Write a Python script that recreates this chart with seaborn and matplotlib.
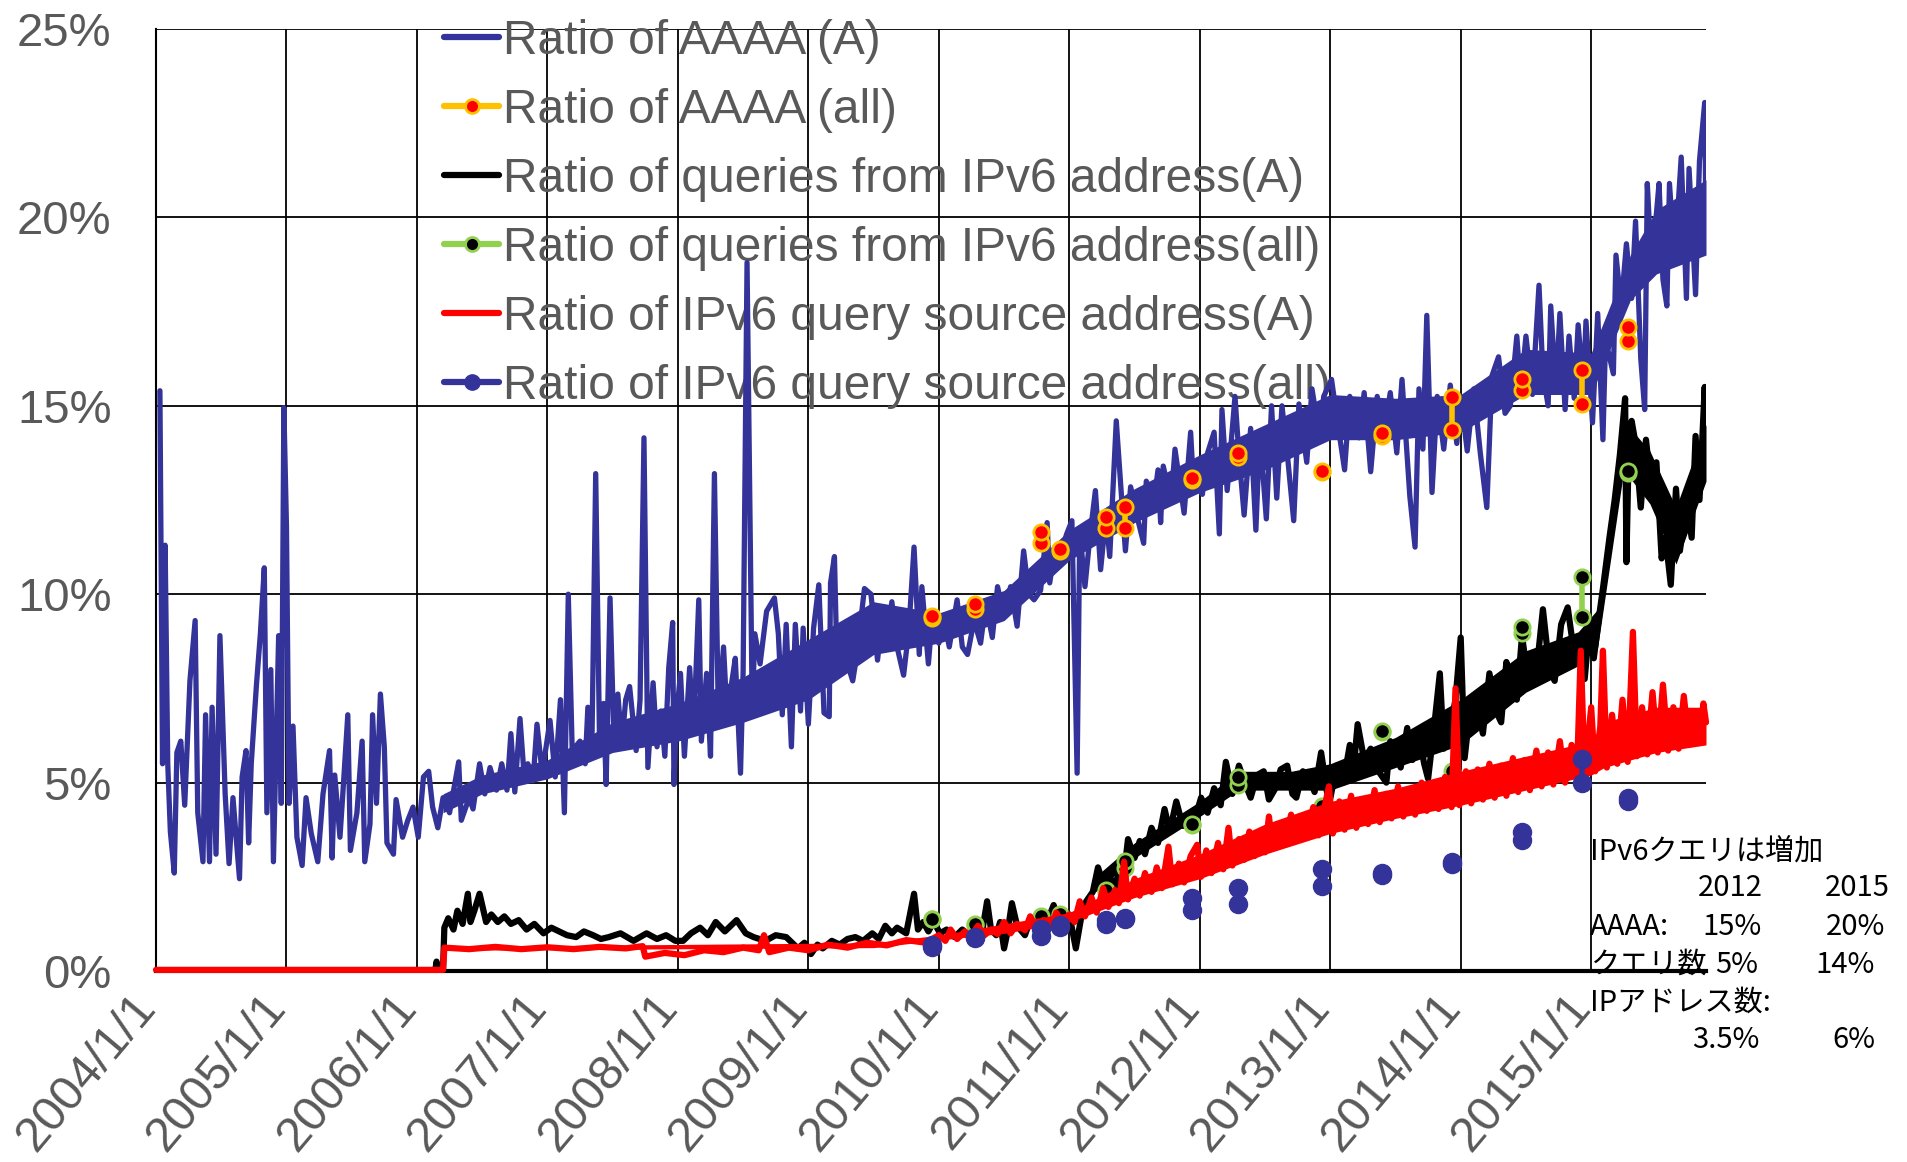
import matplotlib
matplotlib.use("Agg")
import matplotlib.pyplot as plt
import matplotlib.transforms as mtransforms
from matplotlib.lines import Line2D
import seaborn as sns

# ---- data (values in %, x in decimal years) ----
aaaa_a_year = [2004.03, 2004.05, 2004.07, 2004.09, 2004.11, 2004.14, 2004.16, 2004.19, 2004.22, 2004.26,
               2004.30, 2004.32, 2004.36, 2004.38, 2004.41, 2004.43, 2004.46, 2004.49, 2004.53, 2004.56,
               2004.59, 2004.64, 2004.66, 2004.69, 2004.71, 2004.73, 2004.77, 2004.80, 2004.83, 2004.85,
               2004.88, 2004.90, 2004.94, 2004.96, 2004.98, 2005.00, 2005.02, 2005.05, 2005.08, 2005.12,
               2005.15, 2005.19, 2005.24, 2005.28, 2005.33, 2005.35, 2005.37, 2005.41, 2005.43, 2005.47,
               2005.49, 2005.54, 2005.58, 2005.60, 2005.64, 2005.66, 2005.69, 2005.72, 2005.75, 2005.77,
               2005.82, 2005.84, 2005.89, 2005.93, 2005.97, 2006.01, 2006.05, 2006.09, 2006.12, 2006.16,
               2006.20, 2006.25, 2006.32, 2006.34, 2006.40, 2006.43, 2006.48, 2006.52, 2006.56, 2006.61,
               2006.65, 2006.69, 2006.72, 2006.75, 2006.79, 2006.82, 2006.85, 2006.89, 2006.92, 2006.96,
               2007.02, 2007.06, 2007.10, 2007.13, 2007.16, 2007.19, 2007.25, 2007.29, 2007.31, 2007.34,
               2007.37, 2007.40, 2007.43, 2007.45, 2007.48, 2007.51, 2007.54, 2007.57, 2007.60, 2007.63,
               2007.68, 2007.71, 2007.74, 2007.77, 2007.81, 2007.84, 2007.87, 2007.90, 2007.93, 2007.96,
               2007.97, 2007.99, 2008.02, 2008.05, 2008.09, 2008.12, 2008.16, 2008.18, 2008.22, 2008.25,
               2008.28, 2008.31, 2008.35, 2008.38, 2008.41, 2008.44, 2008.48, 2008.50, 2008.53, 2008.57,
               2008.59, 2008.63, 2008.68, 2008.74, 2008.77, 2008.80, 2008.83, 2008.87, 2008.90, 2008.94,
               2008.96, 2009.00, 2009.04, 2009.08, 2009.12, 2009.16, 2009.17, 2009.20, 2009.22, 2009.27,
               2009.30, 2009.34, 2009.37, 2009.43, 2009.48, 2009.53, 2009.57, 2009.60, 2009.64, 2009.68,
               2009.73, 2009.77, 2009.81, 2009.85, 2009.87, 2009.92, 2009.95, 2010.00, 2010.04, 2010.08,
               2010.14, 2010.18, 2010.22, 2010.27, 2010.32, 2010.36, 2010.41, 2010.45, 2010.50, 2010.55,
               2010.60, 2010.65, 2010.69, 2010.73, 2010.78, 2010.83, 2010.85, 2010.89, 2010.94, 2010.98,
               2011.02, 2011.06, 2011.08, 2011.12, 2011.16, 2011.20, 2011.24, 2011.28, 2011.31, 2011.36,
               2011.40, 2011.43, 2011.47, 2011.52, 2011.57, 2011.59, 2011.65, 2011.68, 2011.70, 2011.72,
               2011.78, 2011.81, 2011.88, 2011.93, 2011.95, 2012.02, 2012.06, 2012.11, 2012.15, 2012.17,
               2012.21, 2012.27, 2012.30, 2012.34, 2012.39, 2012.43, 2012.46, 2012.51, 2012.55, 2012.59,
               2012.63, 2012.67, 2012.72, 2012.76, 2012.82, 2012.86, 2012.92, 2012.95, 2013.01, 2013.05,
               2013.11, 2013.15, 2013.22, 2013.26, 2013.31, 2013.36, 2013.41, 2013.46, 2013.51, 2013.55,
               2013.61, 2013.65, 2013.68, 2013.71, 2013.74, 2013.78, 2013.82, 2013.87, 2013.92, 2013.97,
               2014.00, 2014.05, 2014.10, 2014.15, 2014.20, 2014.24, 2014.29, 2014.34, 2014.38, 2014.43,
               2014.46, 2014.50, 2014.55, 2014.60, 2014.63, 2014.67, 2014.69, 2014.73, 2014.76, 2014.80,
               2014.83, 2014.87, 2014.90, 2014.94, 2014.96, 2015.01, 2015.05, 2015.09, 2015.11, 2015.17,
               2015.19, 2015.23, 2015.27, 2015.31, 2015.34, 2015.38, 2015.41, 2015.43, 2015.46, 2015.50,
               2015.52, 2015.55, 2015.58, 2015.60, 2015.64, 2015.69, 2015.73, 2015.75, 2015.80, 2015.83,
               2015.87, 2015.88]
aaaa_a_val = [15.4, 5.5, 11.3, 5.5, 3.7, 2.6, 5.8, 6.1, 4.4, 7.7,
              9.3, 4.2, 2.9, 6.8, 2.9, 7.0, 3.1, 8.9, 4.7, 2.85,
              4.6, 2.45, 5.15, 5.85, 3.4, 5.5, 7.6, 8.95, 10.7, 4.2,
              8.0, 2.9, 8.9, 4.45, 14.95, 11.8, 4.45, 6.5, 3.55, 2.8,
              4.6, 3.65, 2.9, 4.7, 5.85, 3.0, 5.2, 3.55, 4.6, 6.8,
              3.2, 4.2, 6.1, 2.9, 3.9, 6.8, 4.45, 7.35, 5.95, 3.4,
              3.1, 4.55, 3.55, 4.0, 4.35, 3.55, 5.15, 5.3, 4.35, 3.8,
              4.6, 4.2, 5.55, 4.0, 4.6, 4.3, 5.5, 4.7, 5.4, 4.8,
              5.5, 4.8, 6.3, 4.75, 6.7, 5.25, 5.5, 5.05, 6.55, 5.25,
              6.65, 5.15, 7.2, 4.2, 10.0, 5.85, 6.1, 5.5, 7.0, 5.75,
              13.2, 5.95, 7.1, 4.95, 9.9, 6.1, 7.35, 6.0, 7.2, 7.55,
              5.85, 7.2, 14.15, 5.4, 7.65, 5.95, 6.9, 5.7, 8.05, 9.25,
              4.95, 6.8, 7.9, 5.7, 8.05, 6.3, 9.85, 6.1, 7.9, 5.7,
              13.2, 6.8, 8.6, 6.55, 7.6, 8.3, 5.25, 7.95, 18.8, 6.9,
              8.95, 8.15, 9.55, 9.9, 8.95, 6.8, 9.2, 5.95, 9.2, 6.9,
              9.1, 6.55, 9.1, 10.25, 6.85, 6.75, 10.3, 11.0, 8.05, 8.95,
              8.15, 7.7, 8.35, 10.15, 10.0, 8.25, 9.5, 8.8, 9.8, 8.6,
              7.85, 9.05, 11.25, 8.4, 10.2, 8.15, 9.4, 8.7, 9.3, 8.6,
              9.85, 8.6, 8.4, 9.3, 8.7, 9.75, 8.85, 10.2, 9.4, 10.2,
              9.15, 11.15, 10.0, 9.85, 10.1, 11.9, 10.3, 11.25, 11.15, 11.6,
              11.95, 5.25, 11.7, 10.2, 11.6, 12.75, 10.65, 12.05, 11.0, 14.6,
              12.6, 11.15, 12.85, 12.05, 11.35, 13.0, 12.5, 13.3, 11.9, 13.4,
              12.45, 13.85, 12.15, 14.3, 13.0, 12.65, 13.75, 14.3, 11.6, 14.9,
              12.75, 15.25, 13.7, 12.1, 14.4, 11.7, 14.3, 12.0, 15.0, 12.55,
              15.0, 13.75, 11.95, 15.05, 13.5, 15.45, 14.15, 15.25, 15.7, 14.7,
              13.3, 15.25, 14.15, 15.35, 13.25, 15.25, 14.25, 15.35, 13.75, 15.7,
              12.6, 11.25, 15.45, 13.85, 17.4, 12.7, 15.25, 13.85, 15.55, 14.0,
              15.25, 13.8, 15.45, 13.75, 12.3, 15.8, 16.3, 14.8, 15.0, 16.85,
              15.4, 16.85, 15.3, 18.2, 15.85, 15.0, 17.65, 15.4, 17.45, 14.9,
              16.85, 15.2, 17.15, 15.5, 17.25, 14.55, 17.45, 14.1, 16.75, 15.85,
              19.0, 17.65, 19.3, 17.85, 19.9, 16.25, 14.9, 20.9, 18.85, 20.1,
              20.9, 18.35, 17.65, 20.9, 18.85, 21.6, 17.85, 21.3, 17.95, 21.5,
              23.05, 19.7]
# dense core of the daily AAAA(A) band (lower / upper edge)
aaaa_band_year = [2006.20, 2006.50, 2007.00, 2007.50, 2008.00, 2008.50, 2009.00, 2009.50, 2010.00, 2010.50,
                  2011.00, 2011.50, 2012.00, 2012.50, 2013.00, 2013.50, 2014.00, 2014.50, 2015.00, 2015.30,
                  2015.50, 2015.88]
aaaa_band_low = [4.2, 4.7, 5.1, 5.8, 6.1, 6.6, 7.2, 8.4, 8.7, 9.3,
                 10.9, 11.9, 12.7, 13.3, 14.1, 14.1, 14.3, 15.3, 15.3, 17.8,
                 18.5, 19.0]
aaaa_band_high = [4.7, 5.2, 5.6, 6.6, 7.1, 7.8, 8.8, 9.8, 9.5, 10.1,
                  11.7, 12.8, 13.7, 14.5, 15.3, 15.2, 15.3, 16.5, 16.4, 19.0,
                  20.2, 21.0]

queries_a_year = [2004.00, 2006.14, 2006.15, 2006.17, 2006.20, 2006.21, 2006.24, 2006.28, 2006.31, 2006.35,
                  2006.39, 2006.41, 2006.44, 2006.48, 2006.53, 2006.57, 2006.62, 2006.67, 2006.72, 2006.78,
                  2006.84, 2006.90, 2006.97, 2007.03, 2007.09, 2007.15, 2007.22, 2007.28, 2007.35, 2007.41,
                  2007.47, 2007.56, 2007.66, 2007.76, 2007.84, 2007.91, 2007.98, 2008.04, 2008.10, 2008.17,
                  2008.23, 2008.29, 2008.36, 2008.45, 2008.52, 2008.58, 2008.67, 2008.75, 2008.83, 2008.92,
                  2008.97, 2009.02, 2009.07, 2009.11, 2009.18, 2009.24, 2009.30, 2009.36, 2009.42, 2009.49,
                  2009.54, 2009.59, 2009.64, 2009.68, 2009.75, 2009.81, 2009.84, 2009.88, 2009.92, 2009.96,
                  2010.01, 2010.06, 2010.12, 2010.18, 2010.23, 2010.28, 2010.33, 2010.37, 2010.40, 2010.44,
                  2010.47, 2010.50, 2010.53, 2010.56, 2010.60, 2010.66, 2010.70, 2010.75, 2010.80, 2010.84,
                  2010.88, 2010.93, 2011.00, 2011.05, 2011.09, 2011.13, 2011.18, 2011.22, 2011.27, 2011.32,
                  2011.35, 2011.38, 2011.42, 2011.45, 2011.50, 2011.54, 2011.58, 2011.63, 2011.68, 2011.73,
                  2011.77, 2011.82, 2011.87, 2011.92, 2011.96, 2012.01, 2012.06, 2012.11, 2012.16, 2012.20,
                  2012.25, 2012.30, 2012.35, 2012.39, 2012.44, 2012.49, 2012.53, 2012.58, 2012.62, 2012.67,
                  2012.71, 2012.74, 2012.79, 2012.83, 2012.88, 2012.93, 2012.99, 2013.05, 2013.10, 2013.15,
                  2013.18, 2013.21, 2013.26, 2013.31, 2013.37, 2013.43, 2013.46, 2013.49, 2013.54, 2013.59,
                  2013.63, 2013.68, 2013.72, 2013.75, 2013.80, 2013.84, 2013.87, 2013.90, 2013.96, 2014.00,
                  2014.03, 2014.07, 2014.12, 2014.17, 2014.22, 2014.27, 2014.31, 2014.35, 2014.38, 2014.43,
                  2014.47, 2014.52, 2014.57, 2014.60, 2014.63, 2014.68, 2014.72, 2014.77, 2014.82, 2014.87,
                  2014.91, 2014.95, 2014.98, 2015.02, 2015.06, 2015.09, 2015.14, 2015.18, 2015.22, 2015.26,
                  2015.27, 2015.29, 2015.31, 2015.34, 2015.38, 2015.42, 2015.46, 2015.50, 2015.54, 2015.57,
                  2015.61, 2015.65, 2015.68, 2015.73, 2015.77, 2015.80, 2015.83, 2015.87, 2015.88]
queries_a_val = [0.0, 0.0, 0.25, 0.0, 0.05, 1.15, 1.4, 1.1, 1.6, 1.25,
                 2.05, 1.3, 1.6, 2.05, 1.3, 1.5, 1.3, 1.45, 1.25, 1.35,
                 1.1, 1.25, 1.0, 1.15, 1.05, 0.95, 0.9, 1.05, 0.95, 0.85,
                 0.9, 1.0, 0.8, 1.0, 0.85, 0.95, 0.8, 0.8, 1.0, 1.15,
                 0.95, 1.3, 1.05, 1.35, 1.0, 0.9, 0.8, 0.95, 0.9, 0.6,
                 0.75, 0.45, 0.7, 0.6, 0.8, 0.7, 0.85, 0.9, 0.8, 1.0,
                 0.85, 1.2, 1.0, 1.15, 1.0, 2.05, 1.1, 1.3, 1.05, 1.3,
                 1.0, 1.1, 0.9, 1.1, 0.95, 1.3, 1.0, 1.85, 1.1, 0.95,
                 1.3, 0.6, 1.1, 1.8, 1.2, 0.95, 1.35, 1.3, 1.0, 1.4,
                 1.75, 1.2, 1.5, 0.6, 1.4, 1.85, 2.1, 2.75, 2.2, 2.45,
                 2.0, 2.8, 2.6, 3.5, 3.0, 3.45, 3.1, 3.8, 3.4, 4.3,
                 3.7, 4.5, 3.85, 4.15, 4.0, 4.6, 4.2, 4.85, 4.4, 5.55,
                 4.7, 5.45, 4.95, 4.6, 5.2, 5.3, 4.55, 4.85, 5.35, 5.45,
                 4.7, 4.6, 5.3, 5.2, 4.75, 5.8, 4.4, 5.45, 5.0, 6.0,
                 5.4, 6.55, 5.6, 5.9, 5.3, 5.0, 6.1, 5.9, 5.4, 6.45,
                 5.6, 6.25, 5.5, 5.1, 6.6, 7.9, 5.9, 6.1, 7.2, 8.85,
                 5.65, 6.9, 7.15, 6.3, 7.9, 6.9, 6.6, 8.2, 7.75, 7.2,
                 8.9, 7.6, 7.75, 8.6, 9.6, 8.0, 7.7, 9.2, 9.65, 8.4,
                 8.55, 7.75, 8.9, 8.3, 9.4, 10.15, 11.5, 12.5, 13.7, 15.2,
                 10.85, 14.3, 14.6, 14.0, 12.3, 14.1, 12.8, 13.5, 10.95, 11.5,
                 10.25, 12.8, 11.15, 12.5, 11.5, 14.2, 12.5, 15.5, 14.0]
queries_band_year = [2011.20, 2011.50, 2012.00, 2012.30, 2012.70, 2013.00, 2013.50, 2014.00, 2014.50, 2014.90,
                     2015.05, 2015.25, 2015.45, 2015.65, 2015.88]
queries_band_low = [2.1, 3.0, 4.1, 4.8, 4.8, 4.8, 5.4, 6.0, 7.4, 8.1,
                    8.6, 13.3, 12.4, 10.8, 13.0]
queries_band_high = [2.5, 3.4, 4.5, 5.3, 5.3, 5.5, 6.2, 7.2, 8.5, 9.0,
                     9.6, 14.6, 13.8, 12.3, 14.5]

source_a_year = [2004.00, 2006.20, 2006.21, 2006.40, 2006.60, 2006.80, 2007.00, 2007.20, 2007.40, 2007.60,
                 2007.73, 2007.75, 2007.90, 2008.05, 2008.20, 2008.35, 2008.50, 2008.62, 2008.66, 2008.70,
                 2008.85, 2009.00, 2009.15, 2009.30, 2009.45, 2009.60, 2009.75, 2009.90,
                 2010.00, 2010.05, 2010.09, 2010.14, 2010.20, 2010.24, 2010.30, 2010.35, 2010.40, 2010.45,
                 2010.50, 2010.55, 2010.60, 2010.66, 2010.70, 2010.75, 2010.80, 2010.86, 2010.90, 2010.95,
                 2011.00, 2011.04, 2011.08, 2011.12, 2011.17, 2011.21, 2011.26, 2011.30, 2011.35, 2011.38,
                 2011.42, 2011.45, 2011.50, 2011.54, 2011.58, 2011.63, 2011.67, 2011.71, 2011.76, 2011.79,
                 2011.84, 2011.88, 2011.93, 2011.98, 2012.01, 2012.05, 2012.09, 2012.14, 2012.18, 2012.22,
                 2012.25, 2012.30, 2012.34, 2012.38, 2012.42, 2012.46, 2012.50, 2012.53, 2012.56, 2012.61,
                 2012.65, 2012.70, 2012.74, 2012.78, 2012.82, 2012.87, 2012.91, 2012.95, 2012.99, 2013.02,
                 2013.07, 2013.11, 2013.16, 2013.20, 2013.25, 2013.29, 2013.34, 2013.38, 2013.43, 2013.47,
                 2013.52, 2013.56, 2013.61, 2013.65, 2013.70, 2013.74, 2013.79, 2013.83, 2013.88, 2013.93,
                 2013.96, 2013.99, 2014.04, 2014.08, 2014.13, 2014.17, 2014.22, 2014.26, 2014.31, 2014.35,
                 2014.40, 2014.44, 2014.49, 2014.53, 2014.58, 2014.62, 2014.67, 2014.71, 2014.76, 2014.80,
                 2014.85, 2014.89, 2014.92, 2014.95, 2015.00, 2015.03, 2015.07, 2015.09, 2015.12, 2015.16,
                 2015.20, 2015.24, 2015.28, 2015.32, 2015.35, 2015.39, 2015.43, 2015.47, 2015.51, 2015.55,
                 2015.59, 2015.63, 2015.67, 2015.71, 2015.75, 2015.79, 2015.83, 2015.86, 2015.88]
source_a_val = [0.03, 0.03, 0.62, 0.58, 0.64, 0.58, 0.63, 0.58, 0.64, 0.6,
                0.66, 0.38, 0.48, 0.42, 0.55, 0.5, 0.62, 0.55, 0.95, 0.5,
                0.62, 0.55, 0.7, 0.62, 0.75, 0.68, 0.82, 0.75,
                0.95, 0.8, 1.1, 0.85, 1.05, 0.9, 1.2, 0.95, 1.1, 0.98,
                1.3, 1.0, 1.25, 1.08, 1.45, 1.1, 1.35, 1.15, 1.55, 1.25,
                1.5, 1.3, 1.85, 1.45, 1.95, 1.55, 2.2, 1.7, 2.15, 1.8,
                2.9, 1.9, 2.45, 2.0, 2.6, 2.1, 2.75, 2.2, 3.3, 2.3,
                2.85, 2.35, 3.05, 3.35, 2.5, 3.2, 2.6, 3.4, 2.7, 3.8,
                2.8, 3.5, 2.95, 3.7, 3.05, 3.6, 3.15, 4.1, 3.25, 3.9,
                3.35, 4.15, 3.45, 4.0, 3.55, 4.35, 3.6, 4.25, 4.9, 3.65,
                4.5, 3.75, 4.65, 3.8, 4.5, 3.9, 4.8, 3.95, 4.7, 4.05,
                4.9, 4.1, 4.75, 4.15, 5.0, 4.25, 4.95, 4.3, 5.15, 4.35,
                7.5, 4.4, 5.3, 4.45, 5.35, 4.55, 5.5, 4.6, 5.45, 4.65,
                5.65, 4.75, 5.6, 4.8, 5.85, 4.9, 5.8, 4.95, 6.1, 5.0,
                6.0, 5.1, 8.5, 5.2, 7.0, 5.3, 6.5, 8.5, 5.4, 6.8,
                5.5, 7.2, 5.55, 9.0, 5.7, 7.0, 5.75, 7.4, 5.8, 7.6,
                5.85, 7.0, 5.9, 7.3, 6.0, 6.8, 6.05, 7.1, 6.6]
source_band_year = [2006.21, 2009.50, 2010.00, 2010.50, 2011.00, 2011.50, 2012.00, 2012.50, 2013.00, 2013.50,
                    2014.00, 2014.50, 2015.00, 2015.10, 2015.50, 2015.88]
source_band_low = [0.55, 0.62, 0.82, 1.0, 1.3, 1.95, 2.45, 3.1, 3.65, 4.05,
                   4.4, 4.8, 5.2, 5.4, 5.8, 6.0]
source_band_high = [0.65, 0.75, 0.95, 1.25, 1.55, 2.45, 3.1, 3.9, 4.5, 4.85,
                    5.3, 5.7, 6.1, 6.6, 7.0, 7.0]

# sparse "all" measurements, two readings per date
all_dates = [2009.95, 2010.28, 2010.78, 2010.93, 2011.28, 2011.43, 2011.94,
             2012.29, 2012.94, 2013.40, 2013.93, 2014.47, 2014.93, 2015.28]
aaaa_all = [(9.37, 9.42), (9.73, 9.62), (11.64, 11.36), (11.21, 11.15), (12.04, 11.76), (12.32, 11.76),
            (13.08, 13.02), (13.75, 13.63), (13.28, 13.23), (14.28, 14.19), (15.23, 14.36),
            (15.71, 15.43), (15.95, 15.05), (17.08, 16.72)]
queries_all = [(1.37, 1.37), (1.21, 1.25), (1.46, 1.35), (1.52, 1.45), (2.15, 2.1), (2.91, 2.74),
               (3.9, 3.88), (5.16, 4.93), (4.33, 4.38), (6.37, 6.33), (5.3, 5.12),
               (9.12, 8.98), (10.45, 9.4), (13.26, 13.22)]
source_all = [(0.65, 0.68), (0.88, 0.9), (1.12, 0.93), (1.21, 1.16), (1.35, 1.26), (1.37, 1.4),
              (1.95, 1.63), (2.19, 1.77), (2.72, 2.26), (2.56, 2.6), (2.84, 2.9),
              (3.69, 3.47), (5.63, 4.98), (4.6, 4.5)]

year_ticks = list(range(2004, 2016))
year_labels = [f"{y}/1/1" for y in year_ticks]
pct_ticks = [0, 5, 10, 15, 20, 25]
labels = ["Ratio of AAAA (A)", "Ratio of AAAA (all)", "Ratio of queries from IPv6 address(A)",
          "Ratio of queries from IPv6 address(all)", "Ratio of IPv6 query source address(A)",
          "Ratio of IPv6 query source address(all)"]

# ---- style ----
sns.set_style("white")
plt.rcParams['font.family'] = ['Liberation Sans', 'DejaVu Sans']

blue = "#333399"
orange = "#FFC000"
green = "#92D050"
gray = "#595959"

fig = plt.figure(figsize=(19.08, 11.62), dpi=100)
ax = fig.add_axes([156 / 1908, 1 - 971 / 1162, (1706 - 156) / 1908, (971 - 29) / 1162])

def pairs(dates, vals):
    xs, ys, us = [], [], []
    for i, (d, (a, b)) in enumerate(zip(dates, vals)):
        xs += [d, d]
        ys += [a, b]
        us += [i, i]
    return xs, ys, us

# AAAA (A)
ax.fill_between(aaaa_band_year, aaaa_band_low, aaaa_band_high, color=blue, lw=0, zorder=1.9)
sns.lineplot(x=aaaa_a_year, y=aaaa_a_val, ax=ax, color=blue, linewidth=3.8,
             estimator=None, zorder=2)
x, y, u = pairs(all_dates, aaaa_all)
sns.lineplot(x=x, y=y, units=u, estimator=None, ax=ax, color=orange, linewidth=4,
             marker='o', markersize=11, markerfacecolor='red', markeredgecolor=orange,
             markeredgewidth=2, zorder=2.2)
# queries from IPv6 (A)
ax.fill_between(queries_band_year, queries_band_low, queries_band_high, color='black', lw=0, zorder=2.3)
sns.lineplot(x=queries_a_year, y=queries_a_val, ax=ax, color='black', linewidth=4.5,
             estimator=None, zorder=2.4)
x, y, u = pairs(all_dates, queries_all)
sns.lineplot(x=x, y=y, units=u, estimator=None, ax=ax, color=green, linewidth=4,
             marker='o', markersize=11, markerfacecolor='black', markeredgecolor=green,
             markeredgewidth=2, zorder=2.6)
# IPv6 source address (A)
ax.fill_between(source_band_year, source_band_low, source_band_high, color='red', lw=0, zorder=2.9)
sns.lineplot(x=source_a_year, y=source_a_val, ax=ax, color='red', linewidth=4.5,
             estimator=None, zorder=3, clip_on=False)
x, y, u = pairs(all_dates, source_all)
sns.lineplot(x=x, y=y, units=u, estimator=None, ax=ax, color=blue, linewidth=4,
             marker='o', markersize=13, markerfacecolor=blue, markeredgecolor=blue,
             markeredgewidth=1, zorder=4)

ax.set_xlim(2004.0, 2015.88)
ax.set_ylim(0, 25)
ax.set_xlabel("")
ax.set_ylabel("")
ax.set_yticks(pct_ticks)
ax.set_yticklabels([f"{v}%" for v in pct_ticks])
ax.set_xticks(year_ticks)
ax.set_xticklabels(year_labels, rotation=50, ha='right', va='center', rotation_mode='anchor')
ax.tick_params(axis='y', length=0, pad=32, labelsize=34, labelcolor=gray)
ax.tick_params(axis='x', length=10, width=1.5, direction='out', color='black',
               pad=11, labelsize=35, labelcolor=gray)
offset = mtransforms.ScaledTranslation(-6 / 72, 0, fig.dpi_scale_trans)
for lab in ax.get_xticklabels():
    lab.set_transform(lab.get_transform() + offset)

ax.grid(True, color='black', linewidth=1.3)
ax.set_axisbelow(True)
for s in ['top', 'right']:
    ax.spines[s].set_visible(False)
ax.spines['bottom'].set_linewidth(3)
ax.spines['bottom'].set_color('black')
ax.spines['left'].set_linewidth(1.5)
ax.spines['left'].set_color('black')

handles = [
    Line2D([], [], color=blue, lw=4.5),
    Line2D([], [], color=orange, lw=4.5, marker='o', ms=10, mfc='red', mec=orange, mew=2),
    Line2D([], [], color='black', lw=4.5),
    Line2D([], [], color=green, lw=4.5, marker='o', ms=10, mfc='black', mec=green, mew=2),
    Line2D([], [], color='red', lw=4.5),
    Line2D([], [], color=blue, lw=4.5, marker='o', ms=11, mfc=blue, mec=blue),
]
leg = ax.legend(handles, labels, loc='upper left', bbox_to_anchor=(444 / 1908, 1 - 19 / 1162),
                bbox_transform=fig.transFigure, frameon=False, fontsize=34.5,
                handlelength=1.15, handletextpad=0.08, labelspacing=0.5,
                borderpad=0, borderaxespad=0)
leg.set_zorder(1)
for t in leg.get_texts():
    t.set_color(gray)

# annotation block (bottom right)
jp = ['Noto Sans CJK JP', 'DejaVu Sans']
def ftext(px, py, s, ha='left'):
    fig.text(px / 1908, 1 - py / 1162, s, ha=ha, va='center', fontsize=21,
             family=jp, color='black')

ftext(1590, 852, "IPv6クエリは増加")
ftext(1763, 888, "2012", 'right')
ftext(1890, 888, "2015", 'right')
ftext(1590, 927, "AAAA:")
ftext(1762, 927, "15%", 'right')
ftext(1885, 927, "20%", 'right')
ftext(1590, 965, "クエリ数")
ftext(1758, 965, "5%", 'right')
ftext(1875, 965, "14%", 'right')
ftext(1590, 1003, "IPアドレス数:")
ftext(1760, 1040, "3.5%", 'right')
ftext(1875, 1040, "6%", 'right')

fig.savefig("out.png", dpi=100, facecolor='white')
